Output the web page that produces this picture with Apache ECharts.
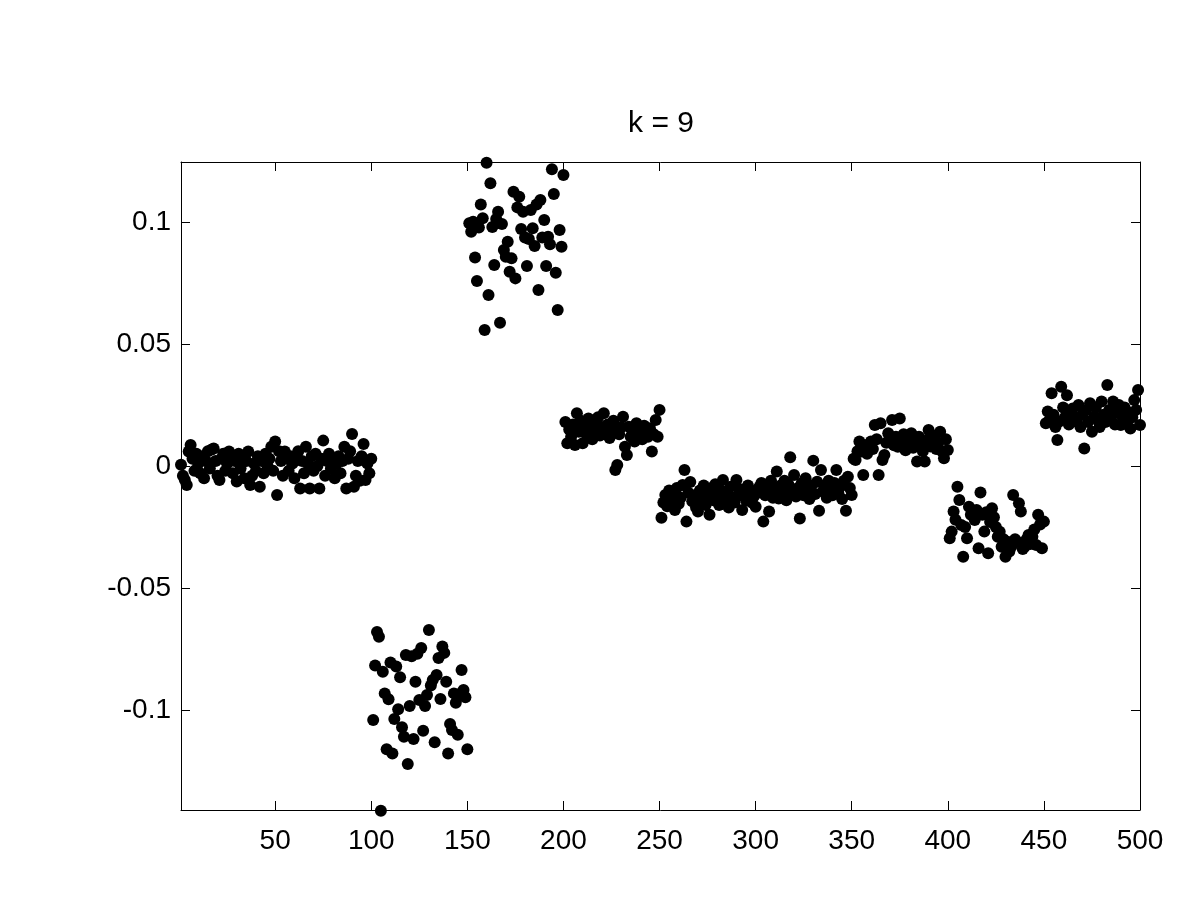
<!DOCTYPE html>
<html>
<head>
<meta charset="utf-8">
<script src="https://cdn.jsdelivr.net/npm/echarts@6/dist/echarts.min.js"></script>
<style>html,body{margin:0;padding:0;background:#fff;}#c{width:1200px;height:900px;}</style>
</head>
<body>
<div id="c"></div>
<script>
// Values for indices 1..100
const seg1 = [0.0005,-0.004,-0.0057,-0.0078,0.0059,0.0086,0.003,-0.002,0.005,0.001,
 -0.003,0.004,-0.005,0.002,0.006,-0.001,0.0068,0.0072,0.002,-0.004,
 -0.0057,0.003,0.005,-0.002,0.001,0.0059,0.004,-0.003,0.002,-0.0064,
 0.005,-0.001,0.003,-0.005,0.002,0.0059,-0.0078,-0.004,0.001,-0.002,
 0.004,-0.0085,0.002,-0.003,0.005,0.000,0.003,0.0079,-0.002,0.010,
 -0.0119,0.006,0.002,-0.004,0.0059,0.003,-0.002,0.004,0.001,-0.005,
 0.003,0.006,-0.0092,0.002,-0.003,0.0079,0.001,-0.0092,0.004,-0.002,
 0.005,0.000,-0.0092,0.003,0.0104,-0.004,0.002,0.005,-0.001,0.003,
 -0.005,0.001,0.004,-0.003,0.002,0.0079,-0.0092,0.003,0.006,0.0131,
 -0.0085,-0.004,0.002,-0.006,0.004,0.009,-0.0057,0.001,-0.003,0.003];
// 101..150
const seg2 = [-0.1041,-0.0818,-0.068,-0.070,-0.1413,-0.0843,-0.0932,-0.1161,-0.0956,-0.0805,
 -0.1178,-0.1037,-0.0822,-0.0997,-0.0866,-0.1071,-0.111,-0.0775,-0.1221,-0.0984,
 -0.0780,-0.1119,-0.0884,-0.0770,-0.0959,-0.0746,-0.1085,-0.0984,-0.0939,-0.0672,
 -0.0900,-0.0877,-0.1132,-0.0857,-0.0787,-0.0955,-0.0740,-0.0766,-0.0884,-0.1178,
 -0.1057,-0.1082,-0.0932,-0.0970,-0.1102,-0.0935,-0.0836,-0.0918,-0.0948,-0.1161];
// 151..200
const seg3 = [0.0995,0.0960,0.1001,0.0855,0.0758,0.0978,0.1072,0.1015,0.0557,0.1243,
 0.0701,0.1159,0.0980,0.0824,0.1012,0.1042,0.0587,0.0992,0.0885,0.0858,
 0.0919,0.0796,0.0851,0.1124,0.0769,0.1060,0.1104,0.0971,0.1042,0.0937,
 0.0820,0.0930,0.1049,0.0974,0.0902,0.1072,0.0721,0.1090,0.0937,0.1008,
 0.0820,0.0940,0.0909,0.1216,0.1115,0.0792,0.0639,0.0967,0.0899,0.1193];
// 201..250
const seg4 = [0.0180,0.0093,0.0150,0.0120,0.0170,0.0086,0.0216,0.0140,0.0185,0.0093,
 0.0160,0.0130,0.0195,0.0150,0.0110,0.0175,0.0140,0.0200,0.0125,0.0160,
 0.0216,0.0135,0.0170,0.0115,0.0150,0.0185,-0.0016,0.0004,0.0130,0.0160,
 0.0202,0.0079,0.0045,0.0161,0.0120,0.0145,0.0100,0.0175,0.0127,0.0150,
 0.0110,0.0165,0.0140,0.0120,0.0155,0.0059,0.0130,0.0189,0.0120,0.0230];
// 251..300
const seg5 = [-0.0212,-0.0150,-0.0119,-0.0165,-0.0100,-0.0140,-0.0120,-0.0180,-0.0090,-0.0155,
 -0.0130,-0.0078,-0.0016,-0.0228,-0.0110,-0.0066,-0.0145,-0.0120,-0.0170,-0.0187,
 -0.0100,-0.0135,-0.0080,-0.0160,-0.0115,-0.0200,-0.0090,-0.0140,-0.0075,-0.0125,
 -0.0160,-0.0100,-0.0057,-0.0140,-0.0110,-0.0170,-0.0085,-0.0130,-0.0150,-0.0057,
 -0.0120,-0.0095,-0.0180,-0.0110,-0.0140,-0.0080,-0.0098,-0.0150,-0.0125,-0.0167];
// 301..350
const seg6 = [-0.0110,-0.0085,-0.0070,-0.0228,-0.0120,-0.0095,-0.0187,-0.0060,-0.0130,-0.0092,
 -0.0023,-0.0133,-0.0080,-0.0105,-0.0060,-0.0140,-0.0075,0.0036,-0.0110,-0.0037,
 -0.0125,-0.0090,-0.0215,-0.0070,-0.0120,-0.0050,-0.0100,-0.0135,-0.0080,0.0022,
 -0.0115,-0.0065,-0.0183,-0.0016,-0.0105,-0.0080,-0.0130,-0.0060,-0.0095,-0.0120,
 -0.0070,-0.0016,-0.0110,-0.0085,-0.0135,-0.0060,-0.0183,-0.0044,-0.0090,-0.0119];
// 351..400
const seg7 = [0.0030,0.0025,0.0060,0.0100,0.0059,-0.0037,0.0080,0.0050,0.0090,0.0100,
 0.0070,0.0168,0.0110,-0.0037,0.0175,0.0025,0.0045,0.0095,0.0134,0.0110,
 0.0189,0.0085,0.0120,0.0079,0.0195,0.0100,0.0130,0.0065,0.0086,0.0115,
 0.0134,0.0075,0.0100,0.0018,0.0120,0.0090,0.0060,0.0018,0.0105,0.0148,
 0.0080,0.0125,0.0114,0.0070,0.0095,0.0140,0.0060,0.0032,0.0110,0.0066];
// 401..450
const seg8 = [-0.0296,-0.0269,-0.0187,-0.0220,-0.0085,-0.0139,-0.0242,-0.0372,-0.0250,-0.0296,
 -0.0167,-0.0200,-0.0185,-0.0221,-0.0180,-0.0337,-0.0109,-0.0200,-0.0269,-0.0190,
 -0.0358,-0.0230,-0.0173,-0.0210,-0.0250,-0.0290,-0.0270,-0.0331,-0.0300,-0.0372,
 -0.0310,-0.0350,-0.0331,-0.0119,-0.0300,-0.0310,-0.0153,-0.0187,-0.0340,-0.0331,
 -0.0300,-0.0283,-0.0320,-0.0290,-0.0260,-0.0324,-0.0200,-0.0240,-0.0337,-0.0228];
// 451..500
const seg9 = [0.0175,0.0223,0.0190,0.0298,0.0210,0.0160,0.0107,0.0182,0.0325,0.0240,
 0.0200,0.0290,0.0170,0.0220,0.0236,0.0195,0.0182,0.0250,0.0160,0.0210,
 0.0072,0.0230,0.0180,0.0257,0.0140,0.0200,0.0240,0.0189,0.0160,0.0264,
 0.0210,0.0180,0.0332,0.0230,0.0200,0.0264,0.0170,0.0220,0.0250,0.0168,
 0.0200,0.0240,0.0180,0.0220,0.0154,0.0200,0.0270,0.0230,0.0311,0.0168];

const xTicks = [50,100,150,200,250,300,350,400,450,500];
const yTicks = [-0.1,-0.05,0,0.05,0.1];
const yTickLabels = ['-0.1','-0.05','0','0.05','0.1'];
const titleText = 'k = 9';

const values = [].concat(seg1,seg2,seg3,seg4,seg5,seg6,seg7,seg8,seg9);
const points = values.map((v,i)=>[i+1,v]);

const FONT = 'Liberation Sans';
const chart = echarts.init(document.getElementById('c'), null, {renderer:'canvas'});
const axisCommon = {
  axisLine:{show:true,onZero:false,lineStyle:{color:'#000',width:1}},
  splitLine:{show:false}
};
chart.setOption({
  backgroundColor:'#fff',
  animation:false,
  title:{text:titleText,left:656,top:104,textAlign:'center',
    textStyle:{fontFamily:FONT,fontSize:30,fontWeight:'normal',color:'#000'}},
  grid:{left:181,right:60,top:162,bottom:90,containLabel:false},
  xAxis:[
    Object.assign({type:'value',position:'bottom',min:1,max:500,
      axisTick:{show:true,inside:true,length:9,customValues:xTicks,lineStyle:{color:'#000'}},
      axisLabel:{show:true,customValues:xTicks,margin:17,fontFamily:FONT,fontSize:28,color:'#000'}},axisCommon),
    Object.assign({type:'value',position:'top',min:1,max:500,
      axisTick:{show:true,inside:true,length:9,customValues:xTicks,lineStyle:{color:'#000'}},
      axisLabel:{show:false}},axisCommon)
  ],
  yAxis:[
    Object.assign({type:'value',position:'left',min:-0.141,max:0.1246,
      axisTick:{show:true,inside:true,length:9,customValues:yTicks,lineStyle:{color:'#000'}},
      axisLabel:{show:true,customValues:yTicks,margin:10,fontFamily:FONT,fontSize:28,color:'#000',
        formatter:function(v){const k=yTicks.findIndex(t=>Math.abs(t-v)<1e-9);return k>=0?yTickLabels[k]:'';}}},axisCommon),
    Object.assign({type:'value',position:'right',min:-0.141,max:0.1246,
      axisTick:{show:true,inside:true,length:9,customValues:yTicks,lineStyle:{color:'#000'}},
      axisLabel:{show:false}},axisCommon)
  ],
  series:[{
    type:'scatter',xAxisIndex:0,yAxisIndex:0,data:points,symbol:'circle',symbolSize:12,
    itemStyle:{color:'#000',opacity:1},clip:false
  }]
});
</script>
</body>
</html>
